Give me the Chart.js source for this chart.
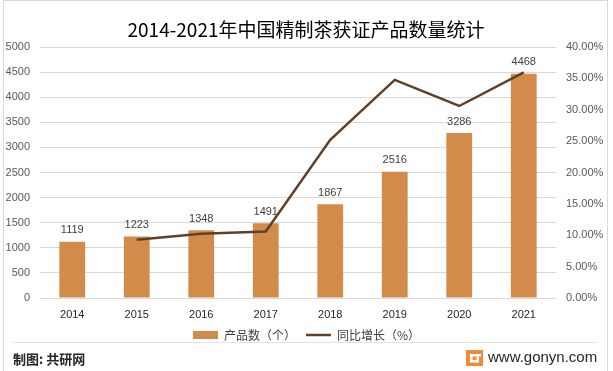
<!DOCTYPE html>
<html lang="zh-CN">
<head>
  <meta charset="UTF-8">
  <title>2014-2021年中国精制茶获证产品数量统计</title>
  <style>
    html, body { margin: 0; padding: 0; background: #fff; }
    .wrap { width: 613px; height: 371px; position: relative; }
  </style>
</head>
<body>
  <div class="wrap"><canvas id="teaChart"></canvas></div>

  <script src="https://cdn.jsdelivr.net/npm/chart.js"></script>
  <script>
    // 数据
    var years = ['2014', '2015', '2016', '2017', '2018', '2019', '2020', '2021'];
    var products = [1119, 1223, 1348, 1491, 1867, 2516, 3286, 4468];
    var growth = [null, 9.29, 10.22, 10.61, 25.22, 34.76, 30.60, 35.97];
    var leftTicks = [0, 500, 1000, 1500, 2000, 2500, 3000, 3500, 4000, 4500, 5000];
    var rightTicks = [0, 5, 10, 15, 20, 25, 30, 35, 40];

    var cjk = '"Noto Sans CJK SC", "Noto Sans", sans-serif';
    var num = '"Liberation Sans", Arial, sans-serif';

    // 背景、标题、页脚
    var frame = {
      id: 'frame',
      beforeDraw: function (chart) {
        var c = chart.ctx;
        c.save();
        c.fillStyle = '#fff';
        c.fillRect(0, 0, chart.width, chart.height);
        c.strokeStyle = '#d9d9d9';
        c.lineWidth = 1;
        c.strokeRect(3.5, 0.5, 604, 375);
        c.restore();
      },
      afterDraw: function (chart) {
        var c = chart.ctx;
        c.save();
        c.fillStyle = '#000';
        c.font = '19px ' + cjk;
        c.textAlign = 'center';
        c.textBaseline = 'middle';
        c.fillText('2014-2021年中国精制茶获证产品数量统计', 306, 30);

        c.strokeStyle = '#e3e3e3';
        c.beginPath();
        c.moveTo(13, 342.5);
        c.lineTo(597, 342.5);
        c.stroke();

        c.fillStyle = '#262626';
        c.textAlign = 'left';
        c.font = 'bold 13px ' + cjk;
        c.fillText('制图: 共研网', 13, 359);
        c.font = '15px ' + num;
        c.fillText('www.gonyn.com', 488, 358);

        // logo
        c.fillStyle = '#f08a3c';
        c.fillRect(466, 350, 17, 16);
        c.fillStyle = '#fff';
        c.fillRect(470, 354, 11, 2.5);
        c.fillRect(470, 354, 2.5, 8);
        c.fillRect(470, 360, 9, 2.5);
        c.fillRect(476.5, 357, 2.5, 5);
        c.restore();
      }
    };

    // 柱顶数值
    var barLabels = {
      id: 'barLabels',
      afterDatasetsDraw: function (chart) {
        var c = chart.ctx;
        var meta = chart.getDatasetMeta(1);
        c.save();
        c.fillStyle = '#404040';
        c.font = '11px ' + num;
        c.textAlign = 'center';
        c.textBaseline = 'bottom';
        meta.data.forEach(function (bar, i) {
          c.fillText(products[i], bar.x, bar.y - 6);
        });
        c.restore();
      }
    };

    var ctx = document.getElementById('teaChart').getContext('2d');
    var teaChart = new Chart(ctx, {
      type: 'bar',
      data: {
        labels: years,
        datasets: [{
          type: 'line',
          label: '同比增长（%）',
          data: growth,
          yAxisID: 'y1',
          borderColor: '#5e4129',
          backgroundColor: '#5e4129',
          borderWidth: 2.5,
          pointRadius: 0,
          tension: 0,
          order: 0
        }, {
          label: '产品数（个）',
          data: products,
          yAxisID: 'y',
          backgroundColor: '#d38b4c',
          categoryPercentage: 1,
          barPercentage: 0.4,
          order: 1
        }]
      },
      options: {
        responsive: true,
        maintainAspectRatio: false,
        animation: false,
        layout: { padding: { top: 47, left: 0, right: 0, bottom: 20 } },
        plugins: {
          title: { display: false },
          tooltip: { enabled: false },
          legend: {
            position: 'bottom',
            reverse: true,
            labels: {
              usePointStyle: true,
              pointStyleWidth: 25,
              boxHeight: 8,
              padding: 10,
              color: '#404040',
              font: { family: cjk, size: 12 },
              generateLabels: function (chart) {
                var items = Chart.defaults.plugins.legend.labels.generateLabels(chart);
                items.forEach(function (it) {
                  if (it.datasetIndex === 0) {
                    it.pointStyle = 'line';
                    it.lineWidth = 2.5;
                    it.strokeStyle = '#5e4129';
                  } else {
                    it.pointStyle = 'rect';
                    it.lineWidth = 0;
                  }
                });
                return items;
              }
            }
          }
        },
        scales: {
          x: {
            grid: { display: false, drawTicks: false },
            border: { display: false },
            ticks: { color: '#262626', font: { family: num, size: 11 }, padding: 10, maxRotation: 0 },
            afterFit: function (s) { s.height = 21; }
          },
          y: {
            position: 'left',
            min: 0,
            max: 5000,
            afterBuildTicks: function (s) { s.ticks = leftTicks.map(function (v) { return { value: v }; }); },
            grid: { color: '#d9d9d9', drawTicks: false },
            border: { display: false },
            ticks: {
              color: '#595959',
              font: { family: num, size: 11 },
              padding: 10,
              callback: function (v) { return String(v); }
            },
            afterFit: function (s) { s.width = 40; }
          },
          y1: {
            position: 'right',
            min: 0,
            max: 40,
            afterBuildTicks: function (s) { s.ticks = rightTicks.map(function (v) { return { value: v }; }); },
            grid: { display: false, drawTicks: false },
            border: { display: false },
            ticks: {
              color: '#595959',
              font: { family: num, size: 11 },
              padding: 10,
              callback: function (v) { return v.toFixed(2) + '%'; }
            },
            afterFit: function (s) { s.width = 57; }
          }
        }
      },
      plugins: [frame, barLabels]
    });
  </script>
</body>
</html>
